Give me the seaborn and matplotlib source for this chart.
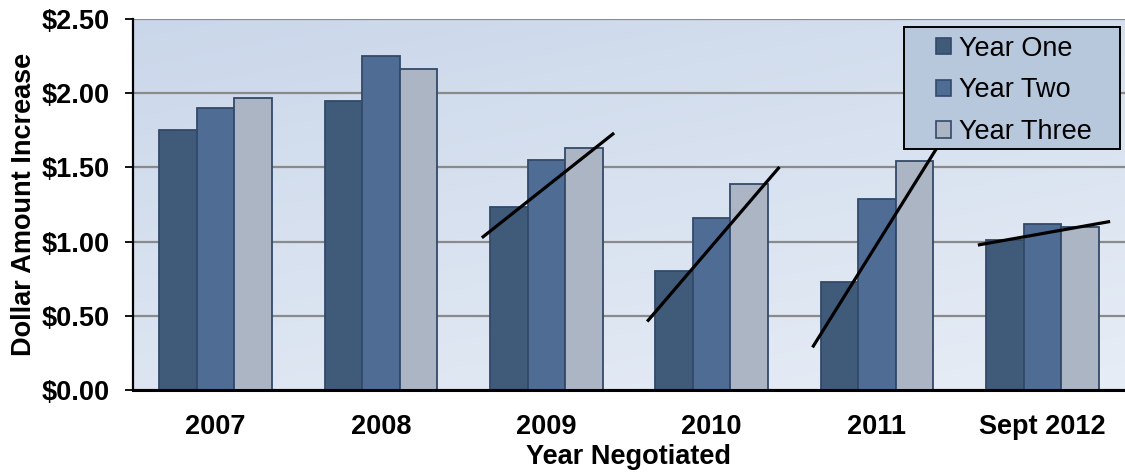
import numpy as np
import pandas as pd
import matplotlib
matplotlib.use("Agg")
import matplotlib.pyplot as plt
import seaborn as sns
from matplotlib.ticker import FuncFormatter
from matplotlib.colors import LinearSegmentedColormap
from matplotlib.patches import Rectangle, Patch

# Data
years = ["2007", "2008", "2009", "2010", "2011", "Sept 2012"]
series = ["Year One", "Year Two", "Year Three"]
year_one = [1.75, 1.95, 1.23, 0.80, 0.73, 1.01]
year_two = [1.90, 2.25, 1.55, 1.16, 1.29, 1.12]
year_three = [1.97, 2.16, 1.63, 1.39, 1.54, 1.10]
trend_years = ["2009", "2010", "2011", "Sept 2012"]

colors = ["#405a7a", "#4f6d94", "#acb5c4"]
edge = "#33496a"

df = pd.DataFrame({
    "year": years * 3,
    "series": [s for s in series for _ in years],
    "value": year_one + year_two + year_three,
})

sns.set_style("white")
plt.rcParams["font.family"] = ["Liberation Sans", "DejaVu Sans"]
plt.rcParams["font.size"] = 19.5
for k in ["text.color", "axes.labelcolor", "xtick.color", "ytick.color"]:
    plt.rcParams[k] = "black"

fig = plt.figure(figsize=(11.25, 4.73), dpi=100)
ax = fig.add_axes([133 / 1125, 1 - 390 / 473, 992 / 1125, 371 / 473])

# gradient background of the plot area
cmap = LinearSegmentedColormap.from_list("bg", ["#cad7ea", "#e7edf6"])
gx, gy = np.meshgrid(np.linspace(0, 1, 200), np.linspace(0, 1, 200))
grad = 0.35 * gx + 0.65 * gy
ax.imshow(grad, extent=[0, 1, 0, 1], transform=ax.transAxes, cmap=cmap,
          aspect="auto", origin="upper", zorder=0)

bar_w = 0.68
sns.barplot(data=df, x="year", y="value", hue="series", order=years,
            hue_order=series, palette=colors, width=bar_w, gap=0,
            edgecolor=edge, linewidth=1.3, saturation=1, ax=ax, zorder=2,
            legend=False)

# hand-drawn style trend lines through the top right corners of the bars
corners = (np.array([-1, 0, 1]) + 0.5) * bar_w / 3
vals = np.array([year_one, year_two, year_three])
for y in trend_years:
    i = years.index(y)
    slope, icpt = np.polyfit(corners, vals[:, i], 1)
    xs = np.array([-0.39, 0.41])
    ax.plot(i + xs, icpt + slope * xs, color="black", lw=2.3, zorder=4,
            solid_capstyle="butt")

ax.set_xlim(-0.5, 5.5)
ax.set_ylim(0, 2.5)
ax.set_yticks(np.arange(0, 2.51, 0.5))
ax.yaxis.set_major_formatter(FuncFormatter(lambda v, p: f"${v:.2f}"))
ax.yaxis.grid(True, color="#8a8a8a", lw=1.6, zorder=1)
ax.set_axisbelow(True)

for s in ["top", "right"]:
    ax.spines[s].set_visible(False)
ax.spines["left"].set_color("black")
ax.spines["left"].set_linewidth(1.6)
ax.spines["bottom"].set_color("black")
ax.spines["bottom"].set_linewidth(2.2)

ax.tick_params(axis="y", direction="out", length=6, width=1.3, color="black",
               pad=11, left=True)
ax.tick_params(axis="x", length=0, pad=17)
for lab in ax.get_xticklabels() + ax.get_yticklabels():
    lab.set_fontweight("bold")

ax.set_xlabel("Year Negotiated", fontweight="bold", labelpad=3)
ax.set_ylabel("Dollar Amount Increase", fontweight="bold", labelpad=3)

# legend box
ax.add_patch(Rectangle((0.777, 0.650), 0.218, 0.328, transform=ax.transAxes,
                       facecolor="#b8c8dc", edgecolor="black", lw=1.4,
                       zorder=6, clip_on=False))
handles = [Patch(facecolor=c, edgecolor=edge, lw=1.2) for c in colors]
leg = ax.legend(handles, series, loc="upper left",
                bbox_to_anchor=(0.8095, 0.955), frameon=False,
                handlelength=0.55, handleheight=0.55, handletextpad=0.3,
                labelspacing=0.58, borderpad=0, borderaxespad=0,
                fontsize=19.5)
leg.set_zorder(7)

fig.savefig("out.png", dpi=100)
